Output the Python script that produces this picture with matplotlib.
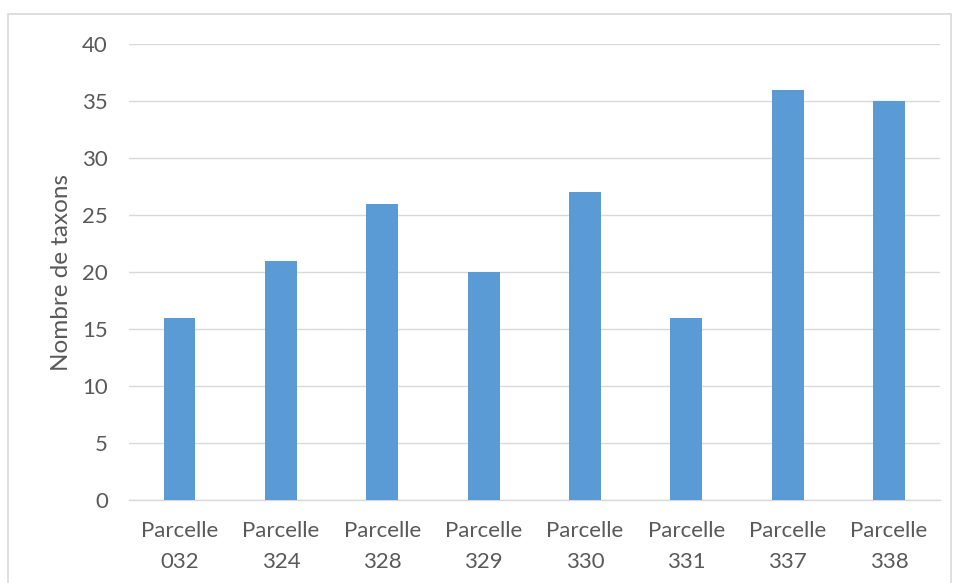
import matplotlib.pyplot as plt
from matplotlib.patches import Rectangle

# Chart data
parcelles = ['Parcelle\n032', 'Parcelle\n324', 'Parcelle\n328', 'Parcelle\n329',
             'Parcelle\n330', 'Parcelle\n331', 'Parcelle\n337', 'Parcelle\n338']
nb_taxons = [16, 21, 26, 20, 27, 16, 36, 35]
y_ticks = [0, 5, 10, 15, 20, 25, 30, 35, 40]

plt.rcParams['font.family'] = ['Lato', 'DejaVu Sans']

fig = plt.figure(figsize=(9.54, 5.83), dpi=100)
ax = fig.add_axes([0.135, 0.142, 0.85, 0.7825])

# outer chart border
fig.patches.append(Rectangle((8 / 954, -0.05), 943 / 954, 1 - 14 / 583 + 0.05,
                             transform=fig.transFigure, fill=False,
                             edgecolor='#d9d9d9', linewidth=1.2))

x = range(len(parcelles))
ax.bar(x, nb_taxons, width=0.315, color='#5b9bd5', zorder=3)

ax.set_xlim(-0.5, len(parcelles) - 0.5)
ax.set_ylim(0, 40)
ax.set_yticks(y_ticks)
ax.set_xticks(list(x))
ax.set_xticklabels(parcelles, linespacing=1.7)
ax.grid(axis='y', color='#d9d9d9', linewidth=1, zorder=0)

for s in ['top', 'right', 'left']:
    ax.spines[s].set_visible(False)
ax.spines['bottom'].set_color('#d9d9d9')
ax.spines['bottom'].set_linewidth(1)

ax.tick_params(axis='both', length=0, labelsize=16, colors='#595959')
ax.tick_params(axis='y', pad=15)
ax.tick_params(axis='x', pad=15)
ax.set_ylabel('Nombre de taxons', fontsize=17.5, color='#595959', labelpad=7)

fig.savefig('out.png', dpi=100)
